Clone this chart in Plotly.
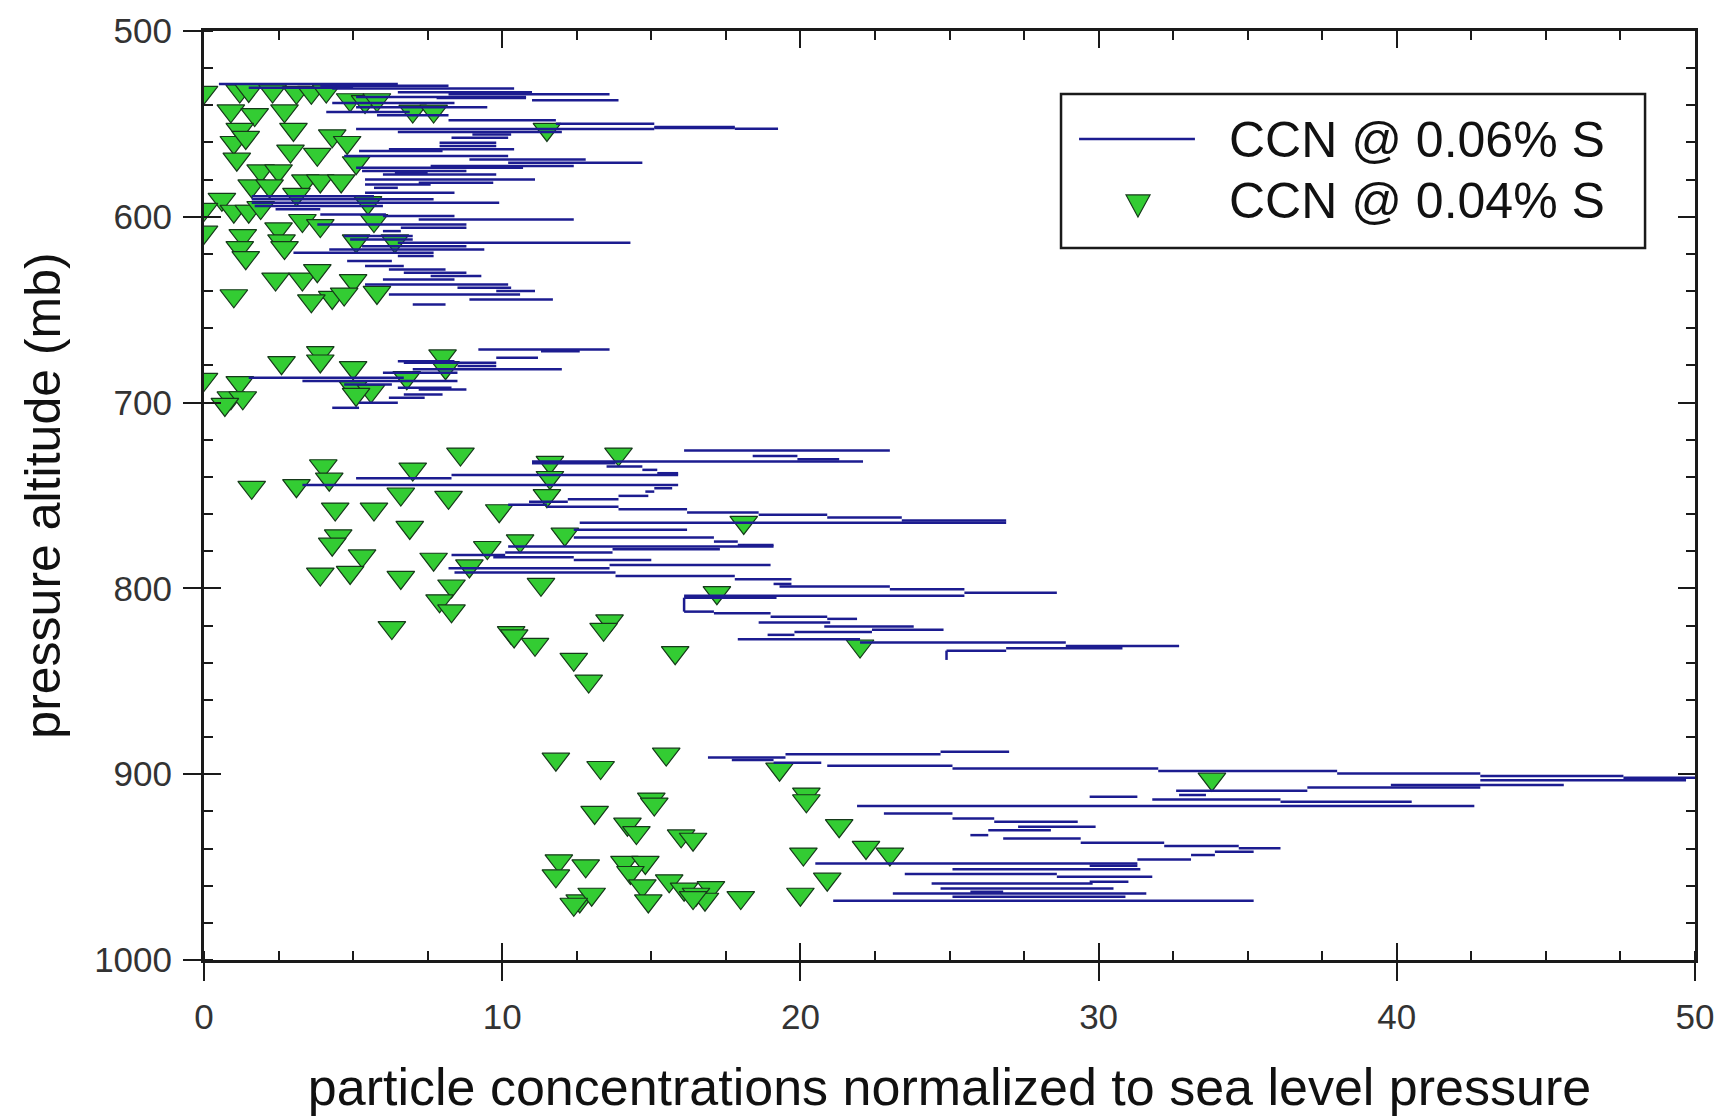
import plotly.graph_objects as go

# CCN @ 0.06% S : horizontal steps of the trace (pressure in mb, start and end concentration)
ccn06_p = [
    528.5, 529.5, 530.5, 531.0, 532.9, 534.1, 535.5, 536.0, 537.3, 538.8, 541.0, 543.6,
    545.4, 548.1, 549.9, 551.7, 552.2, 552.6, 552.8, 554.4, 555.7, 557.5, 560.1, 561.9,
    563.7, 564.6, 567.3, 569.1, 570.9, 572.7, 573.6, 575.4, 576.5, 577.2, 579.9, 581.7,
    582.6, 584.4, 587.1, 588.9, 590.6, 592.4, 594.2, 596.0, 598.7, 599.6, 601.4, 604.1,
    605.9, 607.7, 610.4, 612.2, 614.0, 615.8, 617.6, 619.4, 621.1, 623.8, 626.5, 628.3,
    630.1, 631.9, 633.7, 636.4, 638.2, 640.0, 641.8, 644.5, 647.2,
    671.4, 672.3, 675.9, 677.7, 678.6, 680.3, 682.1, 683.9, 686.6, 688.4, 690.2, 692.0,
    692.9, 695.6, 697.4, 700.1, 702.8,
    725.8, 728.7, 730.5, 731.7, 732.7, 734.4, 736.2, 738.0, 738.9, 740.7, 744.3, 746.1,
    747.9, 750.2, 752.0, 753.3, 755.0, 756.0, 757.4, 759.2, 760.4, 761.9, 763.5, 764.6,
    768.5, 772.6, 774.8, 776.6, 777.5, 778.9, 780.7, 782.0, 783.2, 784.7, 787.4, 789.2,
    791.5, 793.3, 795.1, 797.6, 799.0, 800.5, 802.3, 803.9, 805.0, 812.5, 813.4, 815.2,
    816.4, 818.4, 820.5, 822.3, 823.4, 825.0, 827.4, 829.1, 831.0, 832.2, 833.5,
    887.9, 889.2, 891.0, 892.4, 893.8, 895.4, 896.9, 898.3, 899.6, 901.0, 901.9, 903.2,
    905.8, 907.1, 908.9, 911.2, 912.1, 913.6, 914.8, 917.1, 921.1, 923.8, 925.6, 928.3,
    930.1, 932.8, 934.6, 936.9, 938.7, 939.9, 941.7, 943.5, 945.9, 948.0, 949.3, 951.2,
    953.7, 955.2, 957.9, 958.8, 961.5, 963.3, 964.2, 966.0, 968.1,
]
ccn06_from = [
    0.5, 3.9, 1.5, 4.3, 6.5, 8.2, 5.1, 7.8, 11.0, 4.3, 5.1, 4.1,
    5.8, 8.2, 11.8, 15.1, 15.1, 17.8, 5.1, 6.5, 9.0, 8.3, 7.9, 7.9,
    6.2, 5.2, 4.7, 8.9, 10.2, 7.6, 5.1, 5.3, 6.4, 6.0, 5.4, 7.2,
    5.4, 5.7, 5.4, 1.6, 1.6, 1.6, 1.7, 2.4, 3.9, 6.0, 7.2, 3.8,
    6.6, 6.0, 4.7, 4.9, 6.5, 5.3, 4.2, 3.0, 6.5, 4.8, 5.4, 6.2,
    6.7, 7.6, 6.0, 5.4, 8.5, 9.8, 6.2, 8.9, 7.0,
    9.2, 11.3, 9.8, 6.5, 6.7, 8.5, 7.0, 6.0, 1.5, 3.3, 4.7, 6.5,
    7.2, 6.7, 6.2, 5.2, 4.3,
    16.1, 18.4, 19.9, 11.0, 11.0, 13.5, 14.7, 15.2, 8.3, 5.1, 3.3, 15.1,
    14.8, 13.9, 12.2, 10.9, 10.2, 11.5, 13.9, 16.2, 18.6, 20.9, 23.4, 12.6,
    12.4, 12.4, 17.1, 17.9, 10.2, 13.7, 10.1, 8.3, 9.7, 12.4, 13.6, 8.2,
    8.4, 13.8, 17.8, 19.1, 19.3, 23.0, 25.5, 16.1, 16.1, 16.1, 17.1, 19.0,
    20.9, 18.6, 20.8, 22.4, 19.8, 18.9, 17.9, 22.0, 28.9, 26.9, 24.9,
    24.7, 19.5, 16.9, 17.7, 19.1, 20.9, 25.1, 32.0, 38.0, 42.8, 47.6, 42.8,
    39.8, 37.0, 32.6, 32.7, 29.7, 31.8, 36.1, 21.9, 22.8, 25.1, 26.5, 27.3,
    26.3, 25.7, 26.8, 29.4, 32.2, 34.7, 33.9, 33.1, 31.3, 20.5, 29.7, 25.1,
    23.5, 28.6, 29.7, 24.4, 24.7, 25.7, 23.1, 25.1, 21.1,
]
ccn06_to = [
    6.5, 8.2, 5.0, 10.4, 11.0, 13.6, 10.8, 10.8, 13.9, 8.4, 9.5, 6.9,
    8.2, 11.8, 15.1, 17.8, 17.8, 19.25, 15.1, 12.0, 10.3, 10.2, 9.8, 9.8,
    10.4, 8.0, 10.2, 12.8, 14.7, 12.4, 10.7, 8.8, 7.5, 9.8, 11.1, 9.7,
    7.6, 6.5, 8.4, 5.7, 7.7, 9.9, 6.0, 3.9, 6.1, 8.4, 12.4, 8.8,
    8.8, 6.6, 7.0, 7.0, 14.3, 8.8, 9.4, 7.7, 7.7, 6.3, 6.7, 8.1,
    8.8, 9.3, 8.4, 10.2, 10.3, 11.1, 10.6, 11.7, 8.1,
    13.6, 12.6, 11.2, 8.4, 9.8, 9.8, 12.0, 8.5, 6.7, 8.5, 6.3, 8.3,
    8.8, 8.0, 7.4, 6.5, 5.2,
    23.0, 19.9, 21.3, 22.1, 13.8, 14.7, 15.2, 15.9, 15.9, 8.3, 15.9, 15.7,
    15.1, 14.9, 13.9, 12.2, 11.5, 13.9, 16.2, 18.6, 20.9, 23.4, 26.9, 26.9,
    16.2, 17.1, 17.9, 19.1, 19.1, 17.3, 13.7, 10.1, 12.4, 15.0, 19.0, 13.6,
    13.8, 17.8, 19.7, 19.7, 23.0, 25.5, 28.6, 25.5, 19.2, 17.1, 19.0, 20.9,
    21.9, 21.0, 23.8, 24.8, 22.4, 19.8, 22.0, 28.9, 32.7, 30.8, 26.9,
    27.0, 24.7, 19.5, 19.1, 20.7, 25.1, 32.0, 38.0, 42.8, 47.6, 50.6, 49.7,
    45.6, 42.8, 37.0, 33.6, 31.3, 36.1, 40.5, 42.6, 25.1, 26.5, 29.3, 29.9,
    28.4, 26.3, 29.4, 32.2, 34.7, 36.1, 35.2, 33.9, 33.1, 31.3, 31.3, 31.4,
    28.6, 31.8, 31.0, 29.8, 30.5, 26.8, 31.6, 30.9, 35.2,
]
# vertical risers of the same trace (concentration, pressure from, pressure to)
riser_x = [16.1, 24.9]
riser_p_from = [805.0, 833.5]
riser_p_to = [812.5, 838.5]

# CCN @ 0.04% S : individual samples
ccn04_x = [
    0.0, 1.2, 1.5, 2.3, 3.1, 3.6, 4.1, 4.9, 5.4, 5.8, 7.0, 7.7, 11.5, 0.9, 1.7, 2.7,
    3.0, 1.2, 1.0, 1.4, 4.3, 4.8, 2.9, 3.8, 5.1, 1.1, 1.9, 2.5, 3.4, 3.9, 4.6, 1.6,
    2.2, 3.1, 5.5, 0.6, 0.0, 1.0, 1.5, 1.9, 5.7, 0.0, 1.3, 2.5, 3.3, 3.9, 2.6, 1.2,
    1.4, 2.7, 5.1, 6.4, 2.4, 3.3, 3.8, 5.0, 5.8, 4.3, 3.6, 1.0, 4.7,
    2.6, 3.9, 3.9, 5.0, 8.0, 8.1, 6.8, 5.0, 0.0, 1.2, 0.9, 1.3, 5.6, 5.1, 0.7,
    1.6, 3.1, 4.0, 4.2, 7.0, 8.6, 6.6, 8.2, 11.6, 11.6, 11.5, 13.9, 4.4, 5.7, 9.9,
    18.1, 6.9, 4.5, 4.3, 12.1, 10.6, 9.5, 5.3, 3.9, 4.9, 6.6, 7.7, 8.9, 8.3, 11.3,
    7.9, 8.3, 6.3, 10.3, 10.4, 11.1, 13.6, 13.4, 12.4, 12.9, 15.8, 17.2, 22.0,
    11.8, 13.3, 15.5, 19.3, 33.8, 20.2, 20.2, 15.0, 15.1, 13.1, 14.2, 14.5, 16.0,
    16.4, 21.3, 22.2, 23.0, 20.1, 11.9, 12.8, 11.8, 14.1, 14.8, 14.3, 14.7, 15.6,
    16.1, 17.0, 16.5, 16.8, 18.0, 20.9, 20.0, 12.6, 13.0, 14.9, 12.4, 16.4,
]
ccn04_p = [
    533.0, 532.3, 532.0, 532.3, 533.0, 533.0, 532.3, 537.0, 538.0, 537.0, 543.1, 543.1,
    553.0, 543.0, 545.0, 543.0, 553.0, 553.0, 560.0, 557.3, 556.4, 560.0, 564.6, 566.4,
    570.9, 569.0, 575.3, 575.3, 580.7, 580.7, 580.7, 583.4, 583.4, 587.9, 592.4, 590.6,
    596.0, 597.0, 597.0, 595.0, 602.0, 608.3, 610.1, 606.5, 602.0, 604.7, 613.0, 616.6,
    622.0, 616.6, 613.0, 613.0, 633.5, 633.5, 629.0, 634.4, 640.7, 643.4, 645.2, 642.5,
    641.6,
    678.5, 673.1, 677.6, 681.2, 674.9, 681.2, 686.6, 692.0, 687.5, 689.3, 697.4, 697.4,
    693.8, 695.6, 701.0,
    745.6, 744.7, 734.0, 741.2, 735.8, 727.7, 749.2, 751.0, 732.2, 740.3, 750.1, 727.7,
    757.3, 757.3, 758.2, 764.5, 767.2, 771.7, 776.2, 770.8, 774.4, 778.0, 782.5, 792.3,
    791.4, 794.1, 784.3, 787.9, 798.7, 797.8, 806.7, 812.1, 821.1, 823.8, 825.6, 830.1,
    817.5, 822.0, 838.2, 849.9, 834.6, 802.3, 831.0,
    891.9, 896.4, 889.2, 897.3, 902.7, 910.7, 914.3, 913.4, 916.1, 920.6, 926.9, 931.4,
    933.2, 935.0, 927.7, 939.4, 943.0, 943.0, 946.6, 949.3, 954.7, 947.5, 947.5, 952.9,
    960.1, 957.4, 961.9, 961.0, 964.6, 967.3, 966.4, 956.5, 964.6, 968.2, 964.6, 968.2,
    970.0, 966.4,
]

legend_labels = ["CCN @ 0.06% S", "CCN @ 0.04% S"]
x_title = "particle concentrations normalized to sea level pressure"
y_title = "pressure altitude (mb)"

LINE_COLOR = "#1c1c90"
MARKER_FILL = "#33cc33"
MARKER_EDGE = "#16391a"
AXIS_COLOR = "#1a1a1a"
FONT = "Liberation Sans, Arial, sans-serif"

# build step paths separated by gaps
line_x, line_y = [], []
for p, a, b in zip(ccn06_p, ccn06_from, ccn06_to):
    line_x += [a, b, None]
    line_y += [p, p, None]
for x, p0, p1 in zip(riser_x, riser_p_from, riser_p_to):
    line_x += [x, x, None]
    line_y += [p0, p1, None]

fig = go.Figure()
fig.add_trace(go.Scatter(
    x=ccn04_x, y=ccn04_p, mode="markers", name=legend_labels[1], showlegend=False,
    marker=dict(symbol="triangle-down", size=24, color=MARKER_FILL,
                line=dict(color=MARKER_EDGE, width=1.2)),
))
fig.add_trace(go.Scatter(
    x=line_x, y=line_y, mode="lines", name=legend_labels[0], showlegend=False,
    line=dict(color=LINE_COLOR, width=2.5), connectgaps=False,
))
# empty traces that bring the tick-only overlay axes into being
fig.add_trace(go.Scatter(x=[None], y=[None], xaxis="x2", yaxis="y2",
                         showlegend=False, hoverinfo="skip"))
fig.add_trace(go.Scatter(x=[None], y=[None], xaxis="x3", yaxis="y3",
                         showlegend=False, hoverinfo="skip"))

tickfont = dict(family=FONT, size=35, color="#333333")
common_x = dict(range=[0, 50], tick0=0, dtick=10, showgrid=False, zeroline=False,
                tickcolor=AXIS_COLOR, tickwidth=2, automargin=False)
common_y = dict(range=[1000, 500], tick0=500, dtick=100, showgrid=False, zeroline=False,
                tickcolor=AXIS_COLOR, tickwidth=2, automargin=False)

fig.update_layout(
    width=1731, height=1116,
    margin=dict(l=204, r=36, t=31, b=156),
    paper_bgcolor="white", plot_bgcolor="white",
    showlegend=False,
    xaxis=dict(**common_x, side="bottom", showline=True, linecolor=AXIS_COLOR, linewidth=3,
               ticks="outside", ticklen=18, tickfont=tickfont, ticklabelstandoff=6,
               minor=dict(ticks="inside", ticklen=9, dtick=2.5, tick0=0,
                          tickcolor=AXIS_COLOR, tickwidth=2, showgrid=False),
               title=dict(text=x_title, font=dict(family=FONT, size=52, color="#111"),
                          standoff=36)),
    xaxis2=dict(**common_x, overlaying="x", side="bottom", anchor="y2",
                ticks="inside", ticklen=17, showticklabels=False, showline=False),
    xaxis3=dict(**common_x, overlaying="x", side="top", anchor="y3",
                ticks="inside", ticklen=17, showticklabels=False, showline=True,
                linecolor=AXIS_COLOR, linewidth=3,
                minor=dict(ticks="inside", ticklen=9, dtick=2.5, tick0=0,
                           tickcolor=AXIS_COLOR, tickwidth=2, showgrid=False)),
    yaxis=dict(**common_y, side="left", showline=True, linecolor=AXIS_COLOR, linewidth=3,
               ticks="outside", ticklen=18, tickfont=tickfont, ticklabelstandoff=4,
               minor=dict(ticks="inside", ticklen=9, dtick=20, tick0=500,
                          tickcolor=AXIS_COLOR, tickwidth=2, showgrid=False),
               title=dict(text=y_title, font=dict(family=FONT, size=50, color="#111"),
                          standoff=18)),
    yaxis2=dict(**common_y, overlaying="y", side="left", anchor="x2",
                ticks="inside", ticklen=17, showticklabels=False, showline=False),
    yaxis3=dict(**common_y, overlaying="y", side="right", anchor="x3",
                ticks="inside", ticklen=17, showticklabels=False, showline=True,
                linecolor=AXIS_COLOR, linewidth=3,
                minor=dict(ticks="inside", ticklen=9, dtick=20, tick0=500,
                           tickcolor=AXIS_COLOR, tickwidth=2, showgrid=False)),
)

# boxed key in the upper right corner
fig.add_shape(type="rect", xref="paper", yref="paper",
              x0=0.5748, x1=0.9665, y0=0.7664, y1=0.9322,
              line=dict(color=AXIS_COLOR, width=2.5), fillcolor="white", layer="above")
fig.add_shape(type="line", xref="paper", yref="paper",
              x0=0.5869, x1=0.6646, y0=0.8837, y1=0.8837,
              line=dict(color=LINE_COLOR, width=2.5), layer="above")
fig.add_shape(type="path", xref="paper", yref="paper",
              path="M 0.6184,0.8235 L 0.6345,0.8235 L 0.6264,0.7998 Z",
              fillcolor=MARKER_FILL, line=dict(color=MARKER_EDGE, width=1.2), layer="above")
for label, ypos in zip(legend_labels, [0.8825, 0.8167]):
    fig.add_annotation(text=label, xref="paper", yref="paper", x=0.6861, y=ypos,
                       xanchor="left", yanchor="middle", showarrow=False,
                       font=dict(family=FONT, size=50, color="#111"))

fig.write_html("out.html")
